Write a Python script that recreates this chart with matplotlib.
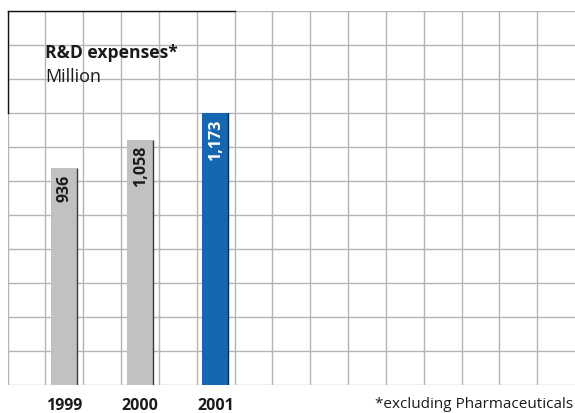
import matplotlib
matplotlib.use("Agg")
import matplotlib.pyplot as plt
import numpy as np

plt.rcParams['font.family'] = ['Open Sans', 'DejaVu Sans']

# ---- data ----
years = ["1999", "2000", "2001"]
values = [936, 1058, 1173]
value_labels = ["936", "1,058", "1,173"]
bar_colors = ["#c1c1c1", "#c1c1c1", "#1666b2"]
edge_colors = ["#3a3a3a", "#3a3a3a", "#0b2d52"]
label_colors = ["#1a1a1a", "#1a1a1a", "#ffffff"]
title = "R&D expenses*"
subtitle = "Million"
footnote = "*excluding Pharmaceuticals"

W, H = 575, 413
fig = plt.figure(figsize=(W / 100, H / 100), dpi=100)

left_px, right_px, top_px, bottom_px = 7.5, 575.0, 11.0, 385.0
ax = fig.add_axes([left_px / W, 1 - bottom_px / H,
                   (right_px - left_px) / W, (bottom_px - top_px) / H])

n_cols, n_rows = 15, 11
ymax = 1615
ax.set_xlim(0, n_cols)
ax.set_ylim(0, ymax)

grid_color = "#b4b4b4"
for i in range(n_cols):
    ax.axvline(i, color=grid_color, lw=1.0, zorder=1)
for j in range(n_rows + 1):
    ax.axhline(ymax * j / n_rows, color=grid_color, lw=1.0, zorder=1)

# black frame of the title box (top-left 6 columns x 3 rows)
ax.plot([0, 6], [ymax, ymax], color="#111111", lw=1.0, zorder=2, clip_on=False)
ax.plot([0, 0], [ymax, ymax * (n_rows - 3) / n_rows], color="#111111", lw=1.0,
        zorder=2, clip_on=False)

xs = np.array([1.5, 3.5, 5.5])
w = 0.7
ax.bar(xs, values, width=w, color=bar_colors, zorder=3, linewidth=0)
ax.vlines(xs + w / 2 - 0.015, 0, values, colors=edge_colors, lw=1.0, zorder=4)

for x, v, lab, c in zip(xs, values, value_labels, label_colors):
    ax.annotate(lab, xy=(x, v), xytext=(0.5, -4.5), textcoords="offset points",
                rotation=90, ha="center", va="top", fontsize=11.5,
                fontweight="bold", color=c, zorder=5)

ax.set_xticks(xs)
ax.set_xticklabels(years, fontsize=11.5, fontweight="bold", color="#1a1a1a")
ax.tick_params(axis="x", length=0, pad=9.5)
ax.set_yticks([])
for s in ax.spines.values():
    s.set_visible(False)

fig.text(45.3 / W, 1 - 58.3 / H, title, fontsize=12.6, fontweight="bold",
         color="#1a1a1a", ha="left", va="baseline")
fig.text(45.3 / W, 1 - 81.5 / H, subtitle, fontsize=13, color="#1a1a1a",
         ha="left", va="baseline")
fig.text(573 / W, 1 - 408.5 / H, footnote, fontsize=11, color="#1a1a1a",
         ha="right", va="baseline")

fig.savefig("out.png", dpi=100)
